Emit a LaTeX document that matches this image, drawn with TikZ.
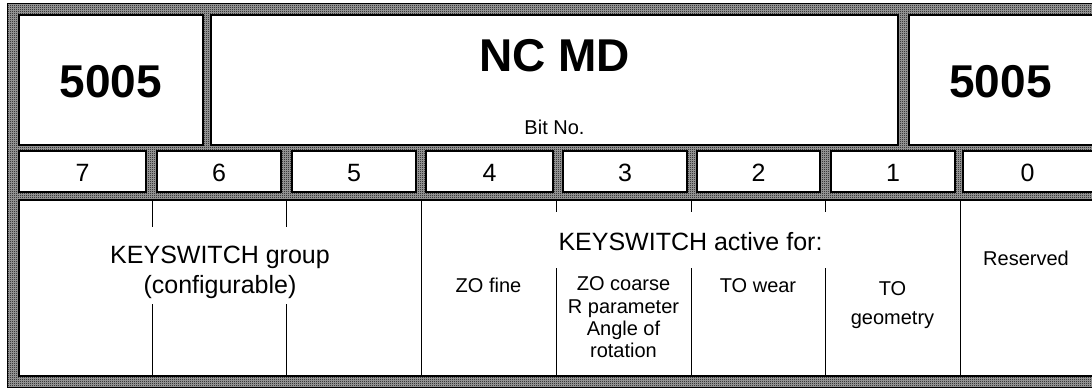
\documentclass[tikz,border=0pt]{standalone}
\usepackage{fontspec}
\setmainfont{Liberation Sans}
\usetikzlibrary{patterns}
\pgfdeclarepatternformonly{finecheck}{\pgfpointorigin}{\pgfqpoint{2pt}{2pt}}{\pgfqpoint{2pt}{2pt}}{%
  \pgfpathrectangle{\pgfpointorigin}{\pgfqpoint{1pt}{1pt}}%
  \pgfpathrectangle{\pgfqpoint{1pt}{1pt}}{\pgfqpoint{1pt}{1pt}}%
  \pgfusepath{fill}}
\begin{document}
\begin{tikzpicture}[x=1pt,y=-1pt,
  cell/.style={draw=black,fill=white,line width=1.6pt},
  divider/.style={draw=black,line width=1pt},
  bignum/.style={font=\fontsize{46}{50}\selectfont\bfseries,anchor=base,inner sep=0pt},
  midtext/.style={font=\fontsize{25}{30}\selectfont,anchor=base,inner sep=0pt},
  smalltext/.style={font=\fontsize{20}{24}\selectfont,anchor=base,inner sep=0pt}]
\useasboundingbox (0,0) rectangle (1092,390);
\clip (0,0) rectangle (1092,390);
\fill[white] (0,0) rectangle (1092,390);
% patterned frame
\fill[black!35] (7,4) rectangle (1110,387);
\fill[pattern=finecheck,pattern color=black] (7,4) rectangle (1110,387);
\draw[black,line width=1pt] (7,4) rectangle (1110,387);
% header boxes
\draw[cell] (19,15) rectangle (203,145);
\draw[cell] (211,15) rectangle (898,145);
\draw[cell] (909,15) rectangle (1110,145);
\node[bignum] (numL) at (111,98) {5005};
\node[bignum] (title) at (554.5,72) {NC MD};
\node[smalltext] (bitno) at (554.5,135) {Bit No.};
\node[bignum] (numR) at (1000.5,98) {5005};
% bit row
\draw[cell] (19,151) rectangle (146,192);
\draw[cell] (157,151) rectangle (281,192);
\draw[cell] (292,151) rectangle (416,192);
\draw[cell] (426,151) rectangle (553,192);
\draw[cell] (563,151) rectangle (687,192);
\draw[cell] (697,151) rectangle (820,192);
\draw[cell] (831,151) rectangle (955,192);
\draw[cell] (963,151) rectangle (1110,192);
\node[midtext] (b7) at (82.5,182) {7};
\node[midtext] (b6) at (219,182) {6};
\node[midtext] (b5) at (354,182) {5};
\node[midtext] (b4) at (489.5,182) {4};
\node[midtext] (b3) at (625,182) {3};
\node[midtext] (b2) at (758.5,182) {2};
\node[midtext] (b1) at (893,182) {1};
\node[midtext] (b0) at (1027.5,182) {0};
% description area
\draw[cell] (19,200) rectangle (1110,376);
\draw[divider] (152,200) -- (152,227) (152,304) -- (152,376);
\draw[divider] (286,200) -- (286,227) (286,304) -- (286,376);
\draw[divider] (421,200) -- (421,376);
\draw[divider] (556,200) -- (556,212) (556,268) -- (556,376);
\draw[divider] (691,200) -- (691,212) (691,268) -- (691,376);
\draw[divider] (825,200) -- (825,212) (825,268) -- (825,376);
\draw[divider] (960,200) -- (960,376);
\node[midtext] (grp1) at (220,263) {KEYSWITCH group};
\node[midtext] (grp2) at (220,293) {(configurable)};
\node[midtext] (act) at (690.5,250) {KEYSWITCH active for:};
\node[smalltext] (zofine) at (488.5,292) {ZO fine};
\node[smalltext] (zoc1) at (623.5,290) {ZO coarse};
\node[smalltext] (zoc2) at (623.5,313) {R parameter};
\node[smalltext] (zoc3) at (623.5,335) {Angle of};
\node[smalltext] (zoc4) at (623.5,357) {rotation};
\node[smalltext] (towear) at (758,292) {TO wear};
\node[smalltext] (togeo1) at (892.5,295) {TO};
\node[smalltext] (togeo2) at (892.5,324) {geometry};
\node[smalltext] (res) at (1026,265) {Reserved};
\end{tikzpicture}
\end{document}
